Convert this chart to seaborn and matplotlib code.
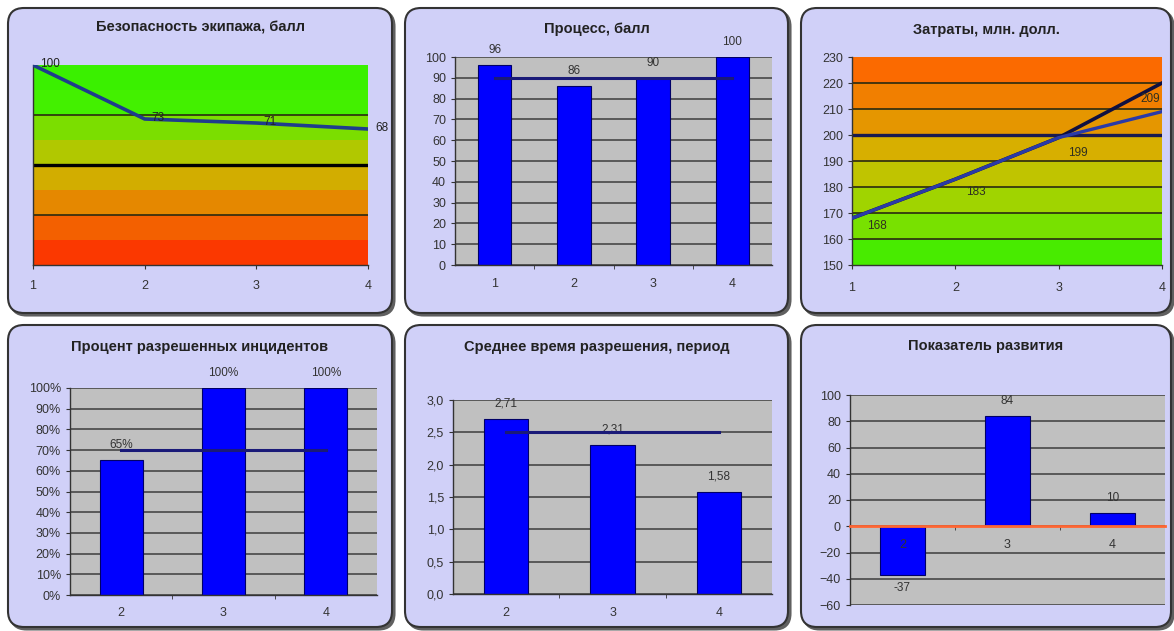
import numpy as np
import matplotlib
matplotlib.use("Agg")
import matplotlib.pyplot as plt
import seaborn as sns
from matplotlib.patches import FancyBboxPatch
from matplotlib.colors import LinearSegmentedColormap
from matplotlib.ticker import PercentFormatter, FuncFormatter

# ---- data ----
safety_periods = [1, 2, 3, 4]
safety_scores = [100, 73, 71, 68]
safety_threshold = 50

process_periods = [1, 2, 3, 4]
process_scores = [96, 86, 90, 100]
process_target = 90

cost_periods = [1, 2, 3, 4]
cost_actual = [168, 183, 199, 209]
cost_forecast = [168, 183, 199, 220]
cost_limit = 200

incident_periods = [2, 3, 4]
incident_share = [0.65, 1.00, 1.00]
incident_target = 0.70

resolve_periods = [2, 3, 4]
resolve_time = [2.71, 2.31, 1.58]
resolve_target = 2.5

growth_periods = [2, 3, 4]
growth_index = [-37, 84, 10]

# ---- style ----
W, H = 1174, 631
PANEL_BG = "#d0d0f8"
PLOT_BG = "#c0c0c0"
GRID = "#474747"
TEXT = "#333333"
BAR = "#0000ff"
TARGET = "#1a1a78"

plt.rcParams["font.family"] = ["Liberation Sans", "DejaVu Sans"]
plt.rcParams["font.size"] = 9

safety_cmap = LinearSegmentedColormap.from_list(
    "safety", ["#ff2400", "#f26400", "#dca400", "#a8d000", "#44f000",
               "#36f000"])
cost_cmap = LinearSegmentedColormap.from_list(
    "cost", ["#30f000", "#90dc00", "#d0bc00", "#ec8a00", "#ff6000"])


def px_rect(l, t, r, b):
    return [l / W, 1 - b / H, (r - l) / W, (b - t) / H]


def add_panel(fig, l, t, r, b, title, title_y):
    for dx, fc, ec, z in [(2.5, "#606060", "#606060", -3),
                          (0, PANEL_BG, "#333333", -2)]:
        box = FancyBboxPatch(
            ((l + dx) / 100, (H - b - dx) / 100), (r - l) / 100, (b - t) / 100,
            boxstyle="round,pad=0,rounding_size=0.16",
            transform=fig.dpi_scale_trans, fc=fc, ec=ec, lw=1.5, zorder=z)
        fig.add_artist(box)
    fig.text((l + r) / 2 / W, 1 - title_y / H, title, ha="center",
             va="center", fontsize=10.5, fontweight="bold", color="#222222")


def style_axes(ax):
    for side in ["top", "right"]:
        ax.spines[side].set_visible(False)
    for side in ["left", "bottom"]:
        ax.spines[side].set_color("#333333")
        ax.spines[side].set_linewidth(1)
    ax.tick_params(colors="#333333", labelcolor=TEXT, labelsize=9,
                   length=3, width=0.8)
    ax.set_xlabel("")
    ax.set_ylabel("")


def band_background(ax, lo, hi, n, cmap, gridlines, threshold, thr_color):
    edges = np.linspace(lo, hi, n + 1)
    for i in range(n):
        ax.axhspan(edges[i], edges[i + 1], color=cmap((i + 0.5) / n),
                   lw=0, zorder=0)
    for y in gridlines:
        ax.axhline(y, color="#2a2a10", lw=1.2, zorder=1)
    ax.axhline(threshold, color=thr_color, lw=2.4, zorder=1.5)


def bar_panel(ax, periods, values, ylim, yticks, label_fmt, target=None):
    ax.set_facecolor(PLOT_BG)
    # gridlines under the bars, tick labels stay on top
    for y in yticks:
        ax.axhline(y, color=GRID, lw=1.2, zorder=0.6)
    sns.barplot(x=periods, y=values, ax=ax, native_scale=True, color=BAR,
                saturation=1, width=0.42, edgecolor="#000066", linewidth=0.8)
    if target is not None:
        sns.lineplot(x=periods, y=[target] * len(periods), ax=ax,
                     color=TARGET, lw=2.2, zorder=4)
    ax.set_xlim(periods[0] - 0.5, periods[-1] + 0.5)
    ax.set_ylim(*ylim)
    ax.set_yticks(yticks)
    ax.set_xticks(periods)
    ax.set_xticks(np.array(periods[:-1]) + 0.5, minor=True)
    ax.grid(False)
    style_axes(ax)
    ax.tick_params(axis="x", which="major", length=0, pad=9)
    ax.tick_params(axis="x", which="minor", length=3, color="#333333")
    for x, v in zip(periods, values):
        ax.annotate(label_fmt(v), (x, v), xytext=(0, 15 if v >= 0 else -13),
                    textcoords="offset pixels", ha="center", va="center",
                    fontsize=8.5, color=TEXT, annotation_clip=False)


fig = plt.figure(figsize=(W / 100, H / 100), dpi=100, facecolor="white")

add_panel(fig, 8, 8, 392, 313, "Безопасность экипажа, балл", 28)
add_panel(fig, 405, 8, 788, 313, "Процесс, балл", 29)
add_panel(fig, 801, 8, 1171, 313, "Затраты, млн. долл.", 30)
add_panel(fig, 8, 325, 392, 627, "Процент разрешенных инцидентов", 347)
add_panel(fig, 405, 325, 788, 627, "Среднее время разрешения, период", 347)
add_panel(fig, 801, 325, 1171, 627, "Показатель развития", 346)

# 1. crew safety
ax1 = fig.add_axes(px_rect(33, 65, 368, 265))
band_background(ax1, 0, 100, 8, safety_cmap, [25, 75], safety_threshold, "black")
sns.lineplot(x=safety_periods, y=safety_scores, ax=ax1, color="#1f3c8c",
             lw=2.6, zorder=3)
ax1.set_xlim(1, 4)
ax1.set_ylim(0, 100)
ax1.set_xticks(safety_periods)
style_axes(ax1)
ax1.tick_params(axis="y", labelleft=False, length=0)
ax1.tick_params(axis="x", pad=8)
for x, v in zip(safety_periods, safety_scores):
    ax1.annotate(str(v), (x, v), xytext=(7, 1), textcoords="offset pixels",
                 ha="left", va="center", fontsize=8.5, color="#222222",
                 annotation_clip=False)

# 2. process
ax2 = fig.add_axes(px_rect(455, 57, 772, 265))
bar_panel(ax2, process_periods, process_scores, (0, 100), range(0, 101, 10),
          lambda v: f"{v:d}", process_target)

# 3. costs
ax3 = fig.add_axes(px_rect(852, 57, 1162, 265))
band_background(ax3, 150, 230, 8, cost_cmap, range(160, 230, 10), cost_limit,
                "#1a1a50")
sns.lineplot(x=cost_periods, y=cost_forecast, ax=ax3, color="#101040",
             lw=2.6, zorder=3)
sns.lineplot(x=cost_periods, y=cost_actual, ax=ax3, color="#2a3aa8",
             lw=2.4, zorder=4)
ax3.set_xlim(1, 4)
ax3.set_ylim(150, 230)
ax3.set_xticks(cost_periods)
ax3.set_yticks(range(150, 231, 10))
style_axes(ax3)
ax3.tick_params(axis="x", pad=9)
cost_label_offsets = [(25, -8), (21, -13), (19, -15), (-12, 13)]
for x, v, off in zip(cost_periods, cost_actual, cost_label_offsets):
    ax3.annotate(str(v), (x, v), xytext=off, textcoords="offset pixels",
                 ha="center", va="center", fontsize=8.5, color="#303020",
                 annotation_clip=False)

# 4. resolved incidents
ax4 = fig.add_axes(px_rect(70, 388, 377, 595))
bar_panel(ax4, incident_periods, incident_share, (0, 1),
          np.linspace(0, 1, 11), lambda v: f"{v:.0%}", incident_target)
ax4.yaxis.set_major_formatter(PercentFormatter(1.0, decimals=0))

# 5. mean resolution time
ax5 = fig.add_axes(px_rect(453, 400, 772, 594))
bar_panel(ax5, resolve_periods, resolve_time, (0, 3),
          np.arange(0, 3.01, 0.5), lambda v: f"{v:.2f}".replace(".", ","),
          resolve_target)
ax5.yaxis.set_major_formatter(
    FuncFormatter(lambda v, p: f"{v:.1f}".replace(".", ",")))

# 6. development index, category axis crosses at zero
ax6 = fig.add_axes(px_rect(850, 395, 1165, 605))
bar_panel(ax6, growth_periods, growth_index, (-60, 100), range(-60, 101, 20),
          lambda v: f"{v:d}")
ax6.spines["bottom"].set_position(("data", 0))
ax6.spines["bottom"].set_color("#ff6633")
ax6.spines["bottom"].set_linewidth(2)

fig.savefig("out.png", dpi=100, facecolor="white")
